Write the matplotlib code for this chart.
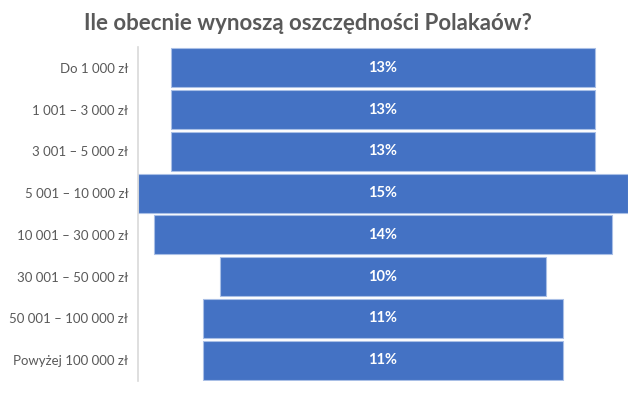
import matplotlib.pyplot as plt

plt.rcParams['font.family'] = ['Lato', 'DejaVu Sans']

categories = ['Do 1 000 zł', '1 001 – 3 000 zł', '3 001 – 5 000 zł', '5 001 – 10 000 zł',
              '10 001 – 30 000 zł', '30 001 – 50 000 zł', '50 001 – 100 000 zł',
              'Powyżej 100 000 zł']
values = [13, 13, 13, 15, 14, 10, 11, 11]
labels = ['13%', '13%', '13%', '15%', '14%', '10%', '11%', '11%']

fig = plt.figure(figsize=(6.39, 3.93), dpi=100)
ax = fig.add_axes([138 / 639, 1 - 381 / 393, 490 / 639, 334 / 393])

pos = list(range(len(categories)))
lefts = [-v / 2 for v in values]
ax.barh(pos, values, left=lefts, height=0.93, color='#4472C4',
        edgecolor='#A9BFE6', linewidth=0.8)

for p, lab in zip(pos, labels):
    ax.text(0, p, lab, ha='center', va='center', color='white',
            fontsize=10.5, fontweight='bold')

ax.set_xlim(-7.5, 7.5)
ax.set_ylim(len(categories) - 0.5, -0.5)
ax.set_yticks(pos)
ax.set_yticklabels(categories, fontsize=9.5, color='#595959')
ax.tick_params(axis='y', length=0, pad=7)
ax.set_xticks([])
for s in ['top', 'right', 'bottom']:
    ax.spines[s].set_visible(False)
ax.spines['left'].set_color('#D9D9D9')
ax.spines['left'].set_linewidth(1.2)

fig.text(308 / 639, 1 - 23 / 393, 'Ile obecnie wynoszą oszczędności Polakaów?',
         ha='center', va='center', fontsize=16, fontweight='bold', color='#595959')

fig.savefig('out.png', dpi=100)
